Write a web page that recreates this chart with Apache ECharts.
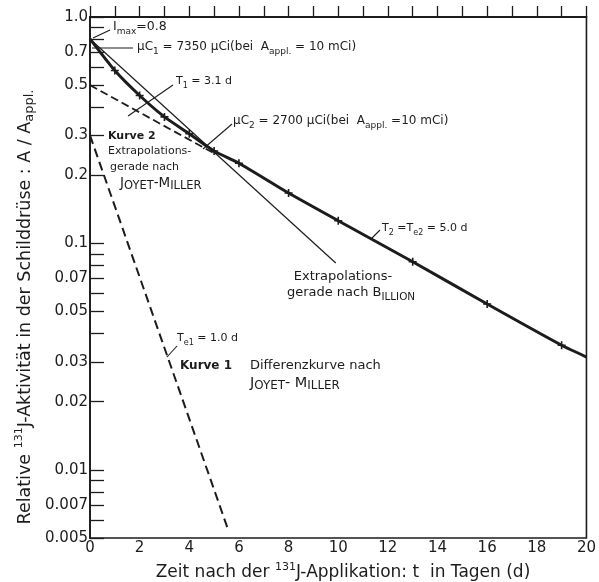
<!DOCTYPE html>
<html>
<head>
<meta charset="utf-8">
<script src="https://cdn.jsdelivr.net/npm/echarts@6/dist/echarts.min.js"></script>
<style>
  html, body { margin: 0; background: #fff; }
  #chart { width: 599px; height: 582px; }
</style>
</head>
<body>
<div id="chart"></div>
<script>
// Messkurve: Tage nach Applikation / relative Aktivität
const measDays = [0, 1, 2, 3, 4, 5, 6, 8, 10, 13, 16, 19, 20]
const measAct = [0.8, 0.58, 0.45, 0.362, 0.305, 0.256, 0.226, 0.167, 0.126, 0.083, 0.054, 0.0355, 0.0315]
// Extrapolationsgerade nach Billion (T1 = 3.1 d)
const billionDays = [0, 9.9]
const billionAct = [0.8, 0.082]
// Kurve 2: Extrapolationsgerade nach Joyet-Miller
const kurve2Days = [0, 5]
const kurve2Act = [0.5, 0.25]
// Kurve 1: Differenzkurve
const kurve1Days = [0, 5.55]
const kurve1Act = [0.3, 0.0055]

const yTickValues = [1, 0.9, 0.8, 0.7, 0.6, 0.5, 0.4, 0.3, 0.2, 0.1, 0.09, 0.08, 0.07, 0.06, 0.05, 0.04, 0.03, 0.02, 0.01, 0.009, 0.008, 0.007, 0.006, 0.005]
const yLabelValues = [1, 0.7, 0.5, 0.3, 0.2, 0.1, 0.07, 0.05, 0.03, 0.02, 0.01, 0.007, 0.005]
const yLabelTexts = ['1.0', '0.7', '0.5', '0.3', '0.2', '0.1', '0.07', '0.05', '0.03', '0.02', '0.01', '0.007', '0.005']
const xLabelValues = [0, 2, 4, 6, 8, 10, 12, 14, 16, 18, 20]

const INK = '#1c1c1c'
const FONT = 'DejaVu Sans'
const plusPath = 'path://M4,0H6V4H10V6H6V10H4V6H0V4H4Z'

const pairs = (xs, ys) => xs.map((x, i) => [x, ys[i]])

function richFor(size, scRatio) {
  return {
    sub: { fontSize: Math.round(size * 0.72), lineHeight: 11, verticalAlign: 'bottom', fontFamily: FONT, fill: INK },
    sup: { fontSize: Math.round(size * 0.65), lineHeight: 11, verticalAlign: 'top', fontFamily: FONT, fill: INK },
    cap: { fontSize: size, lineHeight: 18, verticalAlign: 'middle', fontFamily: FONT, fill: INK },
    sc: { fontSize: size * scRatio, lineHeight: 15, verticalAlign: 'bottom', fontFamily: FONT, fill: INK },
  }
}

function txt(x, y, text, opts = {}) {
  const size = opts.fontSize || 13
  return {
    type: 'text',
    x, y,
    rotation: opts.rotation || 0,
    style: {
      text,
      fill: INK,
      fontFamily: FONT,
      fontSize: size,
      fontWeight: opts.fontWeight || 'normal',
      lineHeight: opts.lineHeight || 18,
      align: opts.align || 'left',
      verticalAlign: 'middle',
      rich: richFor(size, opts.scRatio || 0.8),
    },
    z: 10,
  }
}

function seg(x1, y1, x2, y2) {
  return {
    type: 'line',
    shape: { x1, y1, x2, y2 },
    style: { stroke: INK, lineWidth: 1.1 },
    z: 10,
  }
}

const chart = echarts.init(document.getElementById('chart'))

chart.setOption({
  animation: false,
  grid: {
    left: 90, right: 7, top: 17, bottom: 44,
    show: true, borderColor: INK, borderWidth: 1.6,
  },
  xAxis: {
    type: 'value',
    min: 0, max: 20, interval: 1,
    axisLine: { lineStyle: { color: INK, width: 1.8 } },
    axisTick: { inside: true, length: 11, lineStyle: { color: INK, width: 1.3 } },
    axisLabel: {
      color: INK, fontFamily: FONT, fontSize: 15, margin: 3,
      formatter: v => (xLabelValues.includes(v) ? String(v) : ''),
    },
    splitLine: { show: false },
  },
  yAxis: [
    {
      type: 'log', logBase: 10, min: 0.005, max: 1,
      axisLine: { show: true, lineStyle: { color: INK, width: 1.8 } },
      axisTick: { show: false },
      axisLabel: { show: false },
      splitLine: { show: false },
    },
    {
      // nur Teilung und Beschriftung der logarithmischen Achse
      type: 'value', position: 'left',
      min: Math.log10(0.005), max: 0,
      axisLine: { show: false },
      axisTick: {
        show: true, inside: true, length: 14,
        lineStyle: { color: INK, width: 1.3 },
        customValues: yTickValues.map(Math.log10),
      },
      axisLabel: {
        color: INK, fontFamily: FONT, fontSize: 15, margin: 2,
        customValues: yLabelValues.map(Math.log10),
        formatter: v => {
          const i = yLabelValues.findIndex(t => Math.abs(Math.log10(t) - v) < 1e-6)
          return i >= 0 ? yLabelTexts[i] : ''
        },
      },
      splitLine: { show: false },
    },
  ],
  series: [
    {
      type: 'line', yAxisIndex: 0,
      data: pairs(billionDays, billionAct),
      symbol: 'none',
      lineStyle: { color: INK, width: 1.2 },
      z: 3,
    },
    {
      type: 'line', yAxisIndex: 0,
      data: pairs(kurve2Days, kurve2Act),
      symbol: 'none',
      lineStyle: { color: INK, width: 1.8, type: [8, 4] },
      z: 3,
    },
    {
      type: 'line', yAxisIndex: 0,
      data: pairs(kurve1Days, kurve1Act),
      symbol: 'none',
      lineStyle: { color: INK, width: 2, type: [9, 5] },
      z: 3,
    },
    {
      type: 'line', yAxisIndex: 0,
      data: pairs(measDays, measAct),
      smooth: 0.2,
      symbol: v => (v[0] === measDays[0] || v[0] === measDays[measDays.length - 1] ? 'none' : plusPath),
      symbolSize: 8,
      itemStyle: { color: INK },
      lineStyle: { color: INK, width: 3 },
      z: 5,
    },
  ],
  graphic: [
    // Achsentitel
    txt(343, 573, 'Zeit nach der {sup|131}J-Applikation: t  in Tagen (d)', { fontSize: 17, align: 'center', lineHeight: 22 }),
    txt(25, 307, 'Relative {sup|131}J-Aktivität in der Schilddrüse : A / A{sub|appl.}', { fontSize: 17.5, align: 'center', lineHeight: 22, rotation: Math.PI / 2 }),

    // I max
    seg(93, 38, 110, 30),
    txt(113, 27, 'I{sub|max}=0.8', { fontSize: 12.5 }),
    // μC1
    seg(92, 48, 133, 48),
    txt(137, 47, 'μC{sub|1} = 7350 μCi(bei  A{sub|appl.} = 10 mCi)', { fontSize: 12 }),
    // T1
    seg(173, 85, 128, 116),
    txt(176, 81, 'T{sub|1} = 3.1 d', { fontSize: 11 }),
    // μC2
    seg(232, 124, 203, 149),
    txt(233, 121, 'μC{sub|2} = 2700 μCi(bei  A{sub|appl.} =10 mCi)', { fontSize: 12 }),
    // Kurve 2
    txt(108, 136, 'Kurve 2', { fontSize: 11, fontWeight: 'bold' }),
    txt(108, 151, 'Extrapolations-', { fontSize: 11 }),
    txt(110, 167, 'gerade nach', { fontSize: 11 }),
    txt(120, 183, '{cap|J}{sc|OYET}-{cap|M}{sc|ILLER}', { fontSize: 13.5, scRatio: 0.85 }),
    // Billion
    txt(343, 277, 'Extrapolations-', { align: 'center' }),
    txt(351, 293, 'gerade nach {cap|B}{sc|ILLION}', { align: 'center' }),
    // T2
    seg(380, 230, 371, 239),
    txt(382, 228, 'T{sub|2} =T{sub|e2} = 5.0 d', { fontSize: 11 }),
    // Te1
    seg(177, 346, 167, 357),
    txt(177, 338, 'T{sub|e1} = 1.0 d', { fontSize: 11 }),
    // Kurve 1
    txt(180, 366, 'Kurve 1', { fontSize: 12, fontWeight: 'bold' }),
    txt(250, 366, 'Differenzkurve nach'),
    txt(250, 383, '{cap|J}{sc|OYET}- {cap|M}{sc|ILLER}', { fontSize: 14.5, scRatio: 0.82 }),
  ],
})
</script>
</body>
</html>
